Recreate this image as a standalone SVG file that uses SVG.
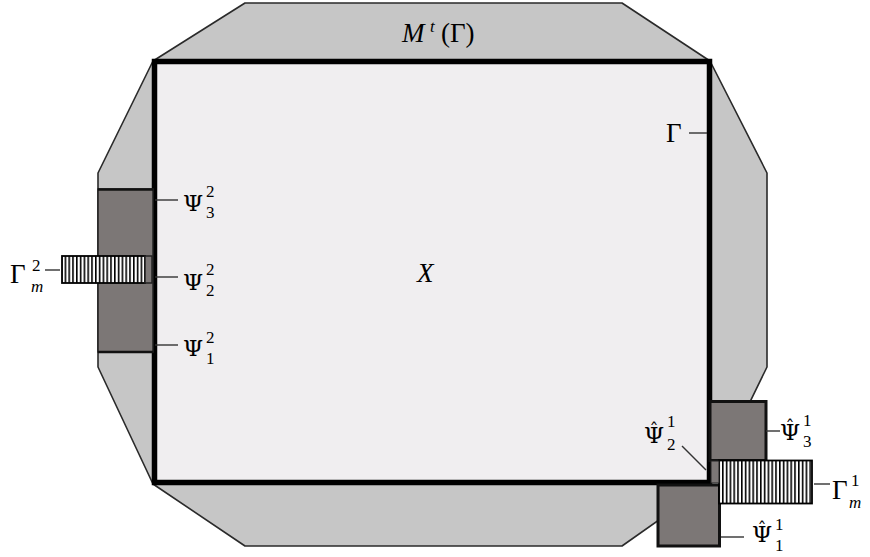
<svg xmlns="http://www.w3.org/2000/svg" width="870" height="557" viewBox="0 0 870 557">
<defs>
<pattern id="hatch" patternUnits="userSpaceOnUse" width="3.8" height="10">
<rect width="3.8" height="10" fill="#fff"/>
<rect x="0" width="1.6" height="10" fill="#000"/>
</pattern>
<style>
.oct{fill:#c6c6c6;stroke:#2a2a2a;stroke-width:1.6;stroke-linejoin:round}
.dom{fill:#f0eef0;stroke:#000;stroke-width:5.5}
.blk{fill:#7c7776;stroke:#111;stroke-width:3}
.blkl{fill:#7c7776;stroke:#222;stroke-width:1.5}
.hat{fill:url(#hatch);stroke:#000;stroke-width:1.8}
.tick{stroke:#333;stroke-width:1.4;fill:none}
.m{font-family:"Liberation Serif","DejaVu Serif",serif;font-size:27px;fill:#000}
.p{font-family:"DejaVu Serif","Liberation Serif",serif;font-size:23px;fill:#000}
.c{font-size:18px}
.s{font-family:"Liberation Serif","DejaVu Serif",serif;font-size:17px;fill:#000}
.i{font-style:italic}
</style>
</defs>
<g id="collar">
<polygon class="oct" points="245,3 622,3 710,61 767,173 767,367 710,484 622,546 245,546 153,484 98,367 98,173 153,61"/>
</g>
<g id="domain">
<rect class="dom" x="154.5" y="61.5" width="555" height="421"/>
</g>
<g id="left-comb">
<rect class="blkl" x="98" y="189" width="55" height="163"/>
<line x1="98" y1="189.5" x2="153" y2="189.5" stroke="#111" stroke-width="2.5"/>
<line x1="98" y1="352" x2="153" y2="352" stroke="#111" stroke-width="2.5"/>
<rect class="hat" x="62" y="256" width="83" height="27"/>
<rect class="blkl" x="145" y="256" width="7" height="27"/>
</g>
<g id="right-comb">
<rect class="blk" x="710" y="401.5" width="56" height="59"/>
<rect class="blk" x="658" y="485" width="61.5" height="61"/>
<rect class="hat" x="719" y="460.5" width="93" height="43"/>
<rect x="711" y="461" width="8" height="22" fill="#7c7776" stroke="#222" stroke-width="1"/>
</g>
<g id="connectors">
<line class="tick" x1="155" y1="200" x2="178" y2="200"/>
<line class="tick" x1="155" y1="277" x2="178" y2="277"/>
<line class="tick" x1="155" y1="345" x2="178" y2="345"/>
<line class="tick" x1="45" y1="270" x2="60" y2="270"/>
<line class="tick" x1="689" y1="133" x2="707" y2="133"/>
<line class="tick" x1="766" y1="431" x2="780" y2="431"/>
<line class="tick" x1="814" y1="484" x2="830" y2="484"/>
<line class="tick" x1="721" y1="537" x2="744" y2="537"/>
<line class="tick" x1="682" y1="446" x2="706" y2="470"/>
</g>
<g id="labels">
<text class="m i" x="402" y="42" font-size="28">M</text><text class="s i" x="430" y="32" font-size="19">t</text><text class="m" x="441" y="42" font-size="28">(Γ)</text>
<text class="m i" x="417" y="282" font-size="28">X</text>
<text class="m" x="666" y="142">Γ</text>
<text class="p" x="183" y="211">Ψ</text><text class="s" x="206" y="197">2</text><text class="s" x="206" y="218">3</text>
<text class="p" x="183" y="290">Ψ</text><text class="s" x="206" y="275">2</text><text class="s" x="206" y="296">2</text>
<text class="p" x="183" y="356">Ψ</text><text class="s" x="206" y="343">2</text><text class="s" x="206" y="364">1</text>
<text class="m" x="10" y="283">Γ</text><text class="s" x="32" y="271">2</text><text class="s i" x="31" y="292">m</text>
<text class="p" x="780" y="440">Ψ<tspan class="c" x="785.5" y="434">ˆ</tspan></text><text class="s" x="803" y="426">1</text><text class="s" x="803" y="447">3</text>
<text class="p" x="644" y="443">Ψ<tspan class="c" x="649.5" y="437">ˆ</tspan></text><text class="s" x="667" y="427">1</text><text class="s" x="667" y="450">2</text>
<text class="m" x="832" y="499">Γ</text><text class="s" x="851" y="486">1</text><text class="s i" x="849" y="508">m</text>
<text class="p" x="752" y="542">Ψ<tspan class="c" x="757.5" y="536">ˆ</tspan></text><text class="s" x="775" y="530">1</text><text class="s" x="775" y="551">1</text>
</g>
</svg>
